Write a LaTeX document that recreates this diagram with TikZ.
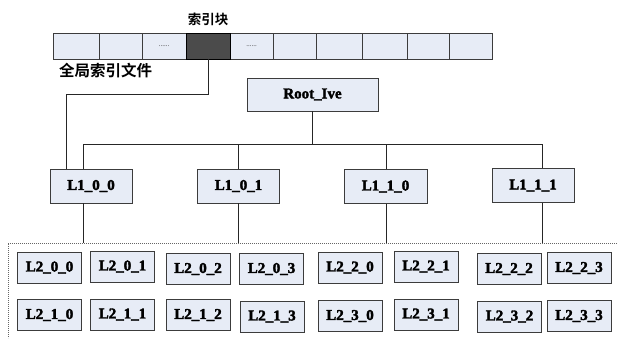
\documentclass[tikz,border=0pt]{standalone}
\usepackage{fontspec}
\setmainfont{Liberation Serif}[BoldFont={Liberation Serif Bold}]
\newfontfamily\cjk{Noto Sans CJK SC}[BoldFont={Noto Sans CJK SC Bold}]
\newcommand{\heavytxt}[1]{\special{pdf:literal direct 2 Tr 0.35 w 0 0 0 RG}#1\special{pdf:literal direct 0 Tr}}
\definecolor{boxfill}{RGB}{231,236,246}
\definecolor{boxline}{RGB}{60,60,60}
\definecolor{darkcell}{RGB}{75,75,75}
\begin{document}
\begin{tikzpicture}[x=1pt,y=-1pt,
  cell/.style={draw=boxline, fill=boxfill, line width=0.9pt, inner sep=0pt, minimum height=26pt},
  lbox/.style={draw=boxline, fill=boxfill, line width=0.9pt, inner sep=0pt,
    font=\fontsize{15}{15}\selectfont\bfseries},
  conn/.style={draw=black!85, line width=0.8pt},
  dotsty/.style={font=\fontsize{7}{7}\selectfont, text=black!80}]
\useasboundingbox (0,0) rectangle (617,338);

% global index file strip
\foreach \a/\b/\n in {53/99/1,99/142/2,142/186/3,186/230/4,230/273/5,273/316/6,316/362/7,362/407/8,407/449/9,449/492/10}
  \node[cell, minimum width={(\b-\a)*1pt}] (c\n) at ({(\a+\b)/2},46) {};
\node[cell, fill=darkcell, draw=black, minimum width=44pt] (c4) at (208,46) {};
\node[dotsty] at (c3) {......};
\node[dotsty] at (c5) {......};
\node[font=\cjk\bfseries\fontsize{13.5}{14}\selectfont] (kuai) at (208,19) {索引块};
\node[font=\cjk\bfseries\fontsize{15.5}{16}\selectfont, anchor=west, inner sep=0pt] (gfile) at (59,71) {全局索引文件};

% root and level 1
\node[lbox, minimum width=131pt, minimum height=33pt] (root) at (312.5,94.5) {\heavytxt{Root\_Ive}};
\node[lbox, minimum width=82pt, minimum height=34pt] (l100) at (91,186) {\heavytxt{L1\_0\_0}};
\node[lbox, minimum width=82pt, minimum height=34pt] (l101) at (238.5,186) {\heavytxt{L1\_0\_1}};
\node[lbox, minimum width=83pt, minimum height=34pt] (l110) at (385.5,186.5) {\heavytxt{L1\_1\_0}};
\node[lbox, minimum width=82pt, minimum height=34pt] (l111) at (533,185.5) {\heavytxt{L1\_1\_1}};

% level 2
\foreach \x/\y/\t/\nm in {49.5/267.5/L2\_0\_0/a00, 122.5/266.5/L2\_0\_1/a01, 198/269/L2\_0\_2/a02, 271.5/269/L2\_0\_3/a03,
  350/267.5/L2\_2\_0/a20, 426/266.5/L2\_2\_1/a21, 509/269/L2\_2\_2/a22, 579/268/L2\_2\_3/a23,
  49.5/315/L2\_1\_0/a10, 122.5/314.5/L2\_1\_1/a11, 198/315/L2\_1\_2/a12, 272/316.5/L2\_1\_3/a13,
  350/316/L2\_3\_0/a30, 426/314.5/L2\_3\_1/a31, 509.5/316.5/L2\_3\_2/a32, 579/316/L2\_3\_3/a33}
  \node[lbox, minimum width=64pt, minimum height=31pt] (\nm) at (\x,\y) {\heavytxt{\t}};

% connectors
\coordinate (bend) at (66,94);
\draw[conn] (c4.south) |- (bend) -- (bend |- l100.north);
\coordinate (bus) at (root.south |- 0,144);
\draw[conn] (root.south) -- (bus);
\draw[conn] (83,144) -- (542,144);
\coordinate (d1) at (83,243);
\coordinate (d2) at (238,243);
\coordinate (d3) at (386,243);
\coordinate (d4) at (542,243);
\draw[conn] (83,144) -- (d1 |- l100.north);
\draw[conn] (238,144) -- (d2 |- l101.north);
\draw[conn] (386,144) -- (d3 |- l110.north);
\draw[conn] (542,144) -- (d4 |- l111.north);
\draw[conn] (d1 |- l100.south) -- (d1);
\draw[conn] (d2 |- l101.south) -- (d2);
\draw[conn] (d3 |- l110.south) -- (d3);
\draw[conn] (d4 |- l111.south) -- (d4);

% dashed region
\draw[black!60, line width=0.8pt, dash pattern=on 1.2pt off 0.8pt] (617,243) -- (8,243) -- (8,338);
\end{tikzpicture}
\end{document}
